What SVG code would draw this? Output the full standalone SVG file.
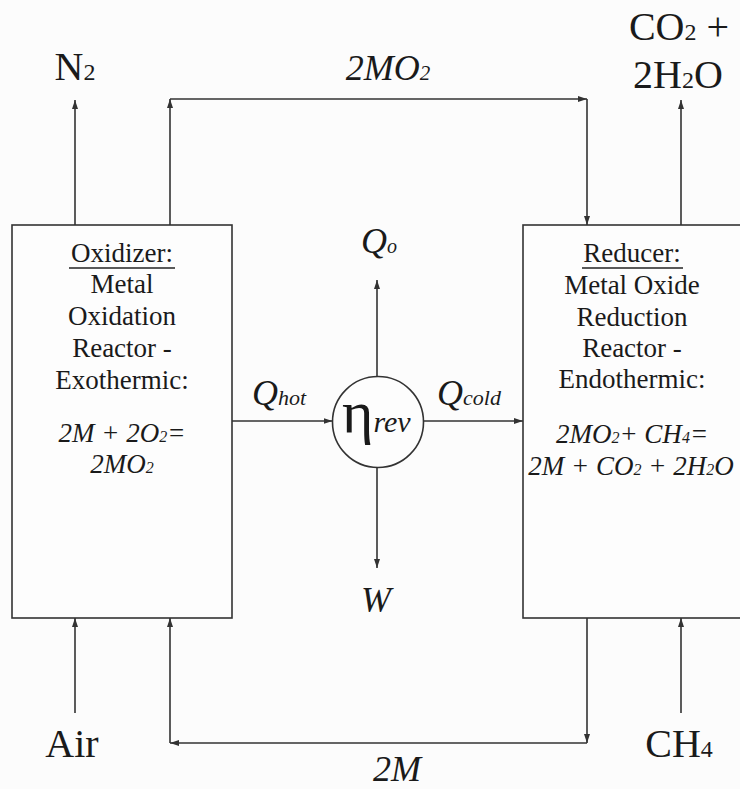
<svg xmlns="http://www.w3.org/2000/svg" width="740" height="789" viewBox="0 0 740 789">
<style>
  .ln{stroke:#333;stroke-width:1.6;fill:none}
  .ul{stroke:#222;stroke-width:1.6}
  .box{stroke:#333;stroke-width:1.6;fill:#fdfdfd}
  text{font-family:"Liberation Serif","Times New Roman",serif;fill:#1a1a1a}
  .big{font-size:40px}
  .bt{font-size:27px;text-anchor:middle}
  .it{font-style:italic}
</style>
<defs>
  <marker id="ah" markerUnits="userSpaceOnUse" markerWidth="9" markerHeight="6" refX="9" refY="3" orient="auto">
    <path d="M0,0 L9,3 L0,6 z" fill="#333"/>
  </marker>
</defs>
<rect x="0" y="0" width="740" height="789" fill="#fcfcfc"/>

<g id="oxidizer">
  <rect class="box" x="12" y="225" width="220" height="393"/>
  <text class="bt" x="122" y="262">Oxidizer:</text>
  <line class="ul" x1="69" y1="268" x2="175" y2="268"/>
  <text class="bt" x="122" y="293">Metal</text>
  <text class="bt" x="122" y="325">Oxidation</text>
  <text class="bt" x="122" y="357">Reactor -</text>
  <text class="bt" x="122" y="389">Exothermic:</text>
  <text class="bt it" x="122" y="442">2M + 2O<tspan font-size="16">2</tspan>=</text>
  <text class="bt it" x="122" y="473">2MO<tspan font-size="16">2</tspan></text>
</g>

<g id="reducer">
  <rect class="box" x="523" y="225" width="240" height="393"/>
  <text class="bt" x="632" y="262">Reducer:</text>
  <line class="ul" x1="582" y1="268" x2="683" y2="268"/>
  <text class="bt" x="632" y="294">Metal Oxide</text>
  <text class="bt" x="632" y="326">Reduction</text>
  <text class="bt" x="632" y="357">Reactor -</text>
  <text class="bt" x="632" y="388">Endothermic:</text>
  <text class="bt it" x="632" y="443">2MO<tspan font-size="16">2</tspan>+ CH<tspan font-size="16">4</tspan>=</text>
  <text class="bt it" x="631" y="475">2M + CO<tspan font-size="16">2</tspan> + 2H<tspan font-size="16">2</tspan>O</text>
</g>

<g id="engine">
  <circle cx="378" cy="422" r="45.5" fill="#fdfdfd" stroke="#333" stroke-width="1.6"/>
  <text x="342" y="432" font-size="60">η<tspan class="it" font-size="30">rev</tspan></text>
</g>

<g id="connectors">
  <line class="ln" x1="75" y1="225" x2="75" y2="100" marker-end="url(#ah)"/>
  <line class="ln" x1="170" y1="225" x2="170" y2="99" marker-end="url(#ah)"/>
  <line class="ln" x1="170" y1="99" x2="587" y2="99" marker-end="url(#ah)"/>
  <line class="ln" x1="587" y1="99" x2="587" y2="225" marker-end="url(#ah)"/>
  <line class="ln" x1="681" y1="225" x2="681" y2="100" marker-end="url(#ah)"/>
  <line class="ln" x1="232" y1="421" x2="332.5" y2="421" marker-end="url(#ah)"/>
  <line class="ln" x1="423.5" y1="421" x2="523" y2="421" marker-end="url(#ah)"/>
  <line class="ln" x1="377" y1="376.5" x2="377" y2="280" marker-end="url(#ah)"/>
  <line class="ln" x1="377" y1="467.5" x2="377" y2="568" marker-end="url(#ah)"/>
  <line class="ln" x1="75" y1="713" x2="75" y2="618" marker-end="url(#ah)"/>
  <line class="ln" x1="681" y1="713" x2="681" y2="618" marker-end="url(#ah)"/>
  <line class="ln" x1="587" y1="618" x2="587" y2="743" marker-end="url(#ah)"/>
  <line class="ln" x1="587" y1="743" x2="170" y2="743" marker-end="url(#ah)"/>
  <line class="ln" x1="170" y1="743" x2="170" y2="618" marker-end="url(#ah)"/>
</g>

<g id="labels">
  <text class="big" x="75" y="80" text-anchor="middle">N<tspan font-size="24">2</tspan></text>
  <text class="it" x="388" y="80" font-size="36" text-anchor="middle">2MO<tspan font-size="21">2</tspan></text>
  <text class="big" x="679" y="40" text-anchor="middle">CO<tspan font-size="24">2</tspan> +</text>
  <text class="big" x="678" y="88" text-anchor="middle">2H<tspan font-size="24">2</tspan>O</text>
  <text class="it" x="361" y="253" font-size="36">Q<tspan font-size="20">o</tspan></text>
  <text class="it" x="252" y="405" font-size="36">Q<tspan font-size="22">hot</tspan></text>
  <text class="it" x="437" y="405" font-size="36">Q<tspan font-size="22">cold</tspan></text>
  <text class="it" x="376" y="612" font-size="36" text-anchor="middle">W</text>
  <text class="big" x="72" y="757" text-anchor="middle">Air</text>
  <text class="big" x="679" y="757" text-anchor="middle">CH<tspan font-size="24">4</tspan></text>
  <text class="it" x="397" y="781" font-size="36" text-anchor="middle">2M</text>
</g>
</svg>
